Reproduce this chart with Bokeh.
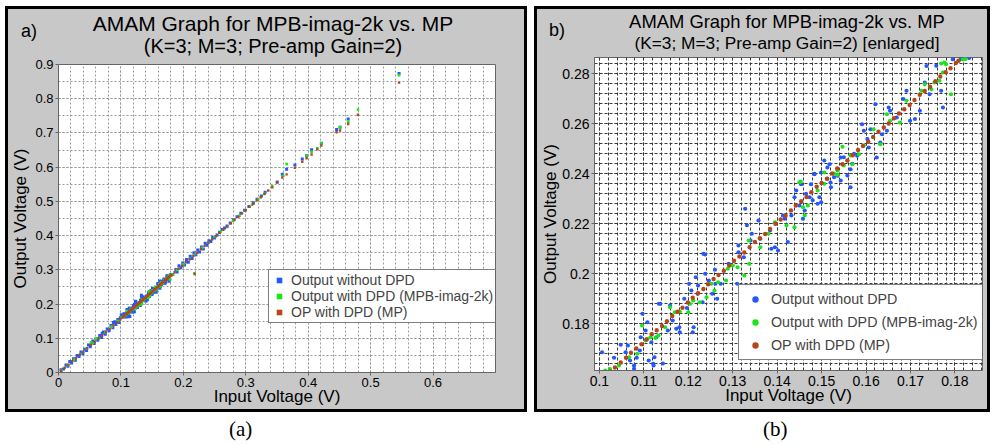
import math
from bokeh.plotting import figure
from bokeh.models import (Range1d, SingleIntervalTicker, NumeralTickFormatter,
                          Legend, LegendItem, Div)
from bokeh.layouts import row, column
from bokeh.embed import file_html
from bokeh.resources import INLINE

# ---------------- data ----------------
series_names = ["Output without DPD", "Output with DPD (MPB-imag-2k)", "OP with DPD (MP)"]
series_colors = ["#2457ff", "#19e619", "#b5461c"]

title_a = ["AMAM Graph for MPB-imag-2k vs. MP", "(K=3; M=3; Pre-amp Gain=2)"]
title_b = ["AMAM Graph for MPB-imag-2k vs. MP", "(K=3; M=3; Pre-amp Gain=2) [enlarged]"]
tags = ["a)", "b)"]
captions = ["(a)", "(b)"]
x_label = "Input Voltage (V)"
y_label = "Output Voltage (V)"

# Output without DPD (blue)
blue_pts = [
    (0.004, 0.008), (0.008, 0.010), (0.012, 0.022), (0.015, 0.018), (0.018, 0.032), (0.021, 0.028),
    (0.024, 0.040), (0.027, 0.036), (0.030, 0.050), (0.033, 0.047), (0.036, 0.060), (0.039, 0.055),
    (0.042, 0.068), (0.045, 0.064), (0.048, 0.080), (0.051, 0.075), (0.054, 0.088), (0.057, 0.085),
    (0.060, 0.098), (0.063, 0.094), (0.066, 0.108), (0.069, 0.102), (0.072, 0.118), (0.075, 0.112),
    (0.078, 0.127), (0.081, 0.122), (0.084, 0.137), (0.087, 0.131), (0.090, 0.148), (0.092, 0.140),
    (0.095, 0.155), (0.097, 0.146), (0.099, 0.160), (0.088, 0.146), (0.070, 0.115), (0.055, 0.092),
    (0.1006, 0.1685), (0.1033, 0.1663), (0.1048, 0.1715), (0.1059, 0.1685), (0.1064, 0.1712),
    (0.1069, 0.1652), (0.1078, 0.1632), (0.1078, 0.1619), (0.1084, 0.1663), (0.1091, 0.1692),
    (0.1093, 0.1745), (0.1097, 0.1839), (0.1104, 0.1772), (0.1108, 0.1805), (0.1111, 0.1652),
    (0.1117, 0.1725), (0.1121, 0.1639), (0.1122, 0.1632), (0.1124, 0.1665), (0.1128, 0.1745),
    (0.1134, 0.1879), (0.1137, 0.1879), (0.1143, 0.1640), (0.1154, 0.1772), (0.1159, 0.1872),
    (0.1165, 0.1812), (0.1173, 0.1779), (0.1180, 0.1785), (0.1181, 0.1765), (0.1191, 0.1899),
    (0.1197, 0.1862), (0.1202, 0.1959), (0.1207, 0.1932), (0.1210, 0.1765), (0.1212, 0.1785),
    (0.1217, 0.1985), (0.1221, 0.1919), (0.1222, 0.1952), (0.1232, 0.1885), (0.1234, 0.2079),
    (0.1238, 0.1999), (0.1238, 0.2076), (0.1246, 0.1972), (0.1254, 0.1919), (0.1260, 0.2015),
    (0.1261, 0.1959), (0.1265, 0.1899), (0.1273, 0.1959), (0.1291, 0.2039), (0.1310, 0.1959),
    (0.1313, 0.2085), (0.1313, 0.2112), (0.1325, 0.2065), (0.1328, 0.2259), (0.1332, 0.2193),
    (0.1340, 0.2132), (0.1343, 0.2159), (0.1358, 0.2212), (0.1362, 0.2139), (0.1384, 0.2172),
    (0.1387, 0.2099), (0.1395, 0.2105), (0.1402, 0.2092), (0.1413, 0.2232), (0.1417, 0.2219),
    (0.1424, 0.2126), (0.1432, 0.2232), (0.1439, 0.2305), (0.1443, 0.2332), (0.1450, 0.2272),
    (0.1454, 0.2357), (0.1458, 0.2219), (0.1462, 0.2252), (0.1465, 0.2319), (0.1473, 0.2305),
    (0.1476, 0.2357), (0.1480, 0.2293), (0.1484, 0.2399), (0.1484, 0.2397), (0.1491, 0.2279),
    (0.1495, 0.2305), (0.1499, 0.2285), (0.1499, 0.2404), (0.1506, 0.2452), (0.1513, 0.2379),
    (0.1513, 0.2424), (0.1518, 0.2437), (0.1520, 0.2364), (0.1521, 0.2345), (0.1528, 0.2385),
    (0.1536, 0.2391), (0.1543, 0.2372), (0.1543, 0.2464), (0.1550, 0.2465), (0.1558, 0.2392),
    (0.1565, 0.2345), (0.1565, 0.2417), (0.1569, 0.2439), (0.1573, 0.2479), (0.1580, 0.2471),
    (0.1591, 0.2597), (0.1595, 0.2571), (0.1603, 0.2538), (0.1606, 0.2504), (0.1610, 0.2577),
    (0.1621, 0.2677), (0.1624, 0.2464), (0.1632, 0.2524), (0.1636, 0.2557), (0.1647, 0.2571),
    (0.1651, 0.2664), (0.1654, 0.2651), (0.1669, 0.2624), (0.1684, 0.2698), (0.1691, 0.2731),
    (0.1699, 0.2611), (0.1710, 0.2618), (0.1721, 0.2651), (0.1732, 0.2764), (0.1736, 0.2830),
    (0.1743, 0.2717), (0.1758, 0.2831), (0.1769, 0.2731), (0.1773, 0.2664), (0.1795, 0.2857),
    (0.1813, 0.2857), (0.1822, 0.2860), (0.1832, 0.2862),
    (0.188, 0.301), (0.190, 0.294), (0.193, 0.312), (0.196, 0.306), (0.199, 0.320), (0.202, 0.314),
    (0.205, 0.330), (0.208, 0.322), (0.211, 0.340), (0.214, 0.333), (0.217, 0.350), (0.220, 0.344),
    (0.223, 0.358), (0.226, 0.352), (0.229, 0.367), (0.232, 0.361), (0.235, 0.378), (0.238, 0.372),
    (0.241, 0.385), (0.244, 0.383), (0.247, 0.395), (0.250, 0.393), (0.254, 0.402), (0.258, 0.410),
    (0.262, 0.418), (0.266, 0.422), (0.270, 0.428), (0.275, 0.437), (0.280, 0.446), (0.286, 0.455),
    (0.292, 0.465), (0.298, 0.474), (0.305, 0.485), (0.312, 0.496), (0.318, 0.506), (0.325, 0.516),
    (0.331, 0.527),
    (0.3504, 0.557), (0.3585, 0.579), (0.3654, 0.594), (0.3787, 0.606), (0.3905, 0.624),
    (0.3974, 0.633), (0.4054, 0.651), (0.421, 0.670), (0.4455, 0.710), (0.451, 0.717),
    (0.464, 0.741), (0.5455, 0.8735),
]

# Output with DPD (MPB-imag-2k) (green)
green_pts = [
    (0.005, 0.006), (0.015, 0.022), (0.025, 0.038), (0.035, 0.054), (0.045, 0.070), (0.052, 0.088),
    (0.055, 0.086), (0.060, 0.099), (0.065, 0.101), (0.075, 0.118), (0.085, 0.134), (0.095, 0.150),
    (0.1013, 0.1612), (0.1024, 0.1618), (0.1044, 0.1632), (0.1067, 0.1665), (0.1085, 0.1679),
    (0.1096, 0.1792), (0.1104, 0.1732), (0.1108, 0.1738), (0.1115, 0.1745), (0.1126, 0.1742),
    (0.1133, 0.1752), (0.1148, 0.1785), (0.1159, 0.1865), (0.1170, 0.1845), (0.1181, 0.1848),
    (0.1200, 0.1845), (0.1204, 0.1879), (0.1211, 0.1892), (0.1226, 0.1885), (0.1241, 0.1905),
    (0.1252, 0.1959), (0.1259, 0.1932), (0.1267, 0.1965), (0.1285, 0.1972), (0.1289, 0.2019),
    (0.1300, 0.2032), (0.1311, 0.2025), (0.1326, 0.1992), (0.1337, 0.2039), (0.1336, 0.2132),
    (0.1362, 0.2105), (0.1380, 0.2159), (0.1395, 0.2205), (0.1421, 0.2192), (0.1439, 0.2185),
    (0.1450, 0.2365), (0.1453, 0.2368), (0.1458, 0.2265), (0.1462, 0.2232), (0.1469, 0.2272),
    (0.1491, 0.2332), (0.1506, 0.2359), (0.1506, 0.2404), (0.1528, 0.2399), (0.1536, 0.2412),
    (0.1536, 0.2395), (0.1547, 0.2507), (0.1550, 0.2432), (0.1565, 0.2472), (0.1569, 0.2437),
    (0.1584, 0.2477), (0.1595, 0.2512), (0.1617, 0.2577), (0.1632, 0.2517), (0.1647, 0.2637),
    (0.1654, 0.2611), (0.1676, 0.2604), (0.1691, 0.2691), (0.1725, 0.2731), (0.1732, 0.2757),
    (0.1747, 0.2737), (0.1754, 0.2764), (0.1765, 0.2771), (0.1769, 0.2840), (0.1773, 0.2804),
    (0.1776, 0.2844), (0.1780, 0.2837), (0.1791, 0.2717), (0.1818, 0.2856), (0.1821, 0.2857),
    (0.1824, 0.2858),
    (0.190, 0.300), (0.200, 0.316), (0.210, 0.332), (0.218, 0.290), (0.220, 0.348), (0.230, 0.364),
    (0.240, 0.380), (0.250, 0.396), (0.260, 0.412), (0.270, 0.425), (0.280, 0.443), (0.290, 0.458),
    (0.300, 0.475), (0.310, 0.490), (0.320, 0.507), (0.330, 0.522),
    (0.3424, 0.545), (0.360, 0.575), (0.3654, 0.609), (0.3974, 0.633), (0.4054, 0.645),
    (0.4145, 0.655), (0.421, 0.670), (0.451, 0.717), (0.464, 0.733), (0.4797, 0.7685),
    (0.5455, 0.869),
]

# OP with DPD (MP) (brown)
brown_pts = [
    (0.004, 0.005), (0.010, 0.014), (0.016, 0.023), (0.022, 0.033), (0.028, 0.042), (0.034, 0.052),
    (0.040, 0.061), (0.046, 0.071), (0.052, 0.081), (0.058, 0.090), (0.064, 0.100), (0.070, 0.109),
    (0.076, 0.119), (0.082, 0.128), (0.088, 0.138), (0.094, 0.147), (0.099, 0.155),
    (0.1025, 0.1608), (0.1035, 0.1624), (0.1048, 0.1644), (0.1060, 0.1663), (0.1071, 0.1683),
    (0.1083, 0.1700), (0.1095, 0.1717), (0.1106, 0.1736), (0.1118, 0.1757), (0.1129, 0.1773),
    (0.1141, 0.1790), (0.1152, 0.1809), (0.1164, 0.1830), (0.1176, 0.1847), (0.1187, 0.1863),
    (0.1199, 0.1884), (0.1210, 0.1903), (0.1222, 0.1921), (0.1234, 0.1938), (0.1245, 0.1957),
    (0.1257, 0.1978), (0.1268, 0.1994), (0.1280, 0.2011), (0.1292, 0.2032), (0.1303, 0.2051),
    (0.1315, 0.2068), (0.1326, 0.2084), (0.1338, 0.2105), (0.1350, 0.2126), (0.1361, 0.2141),
    (0.1373, 0.2158), (0.1384, 0.2178), (0.1396, 0.2199), (0.1408, 0.2216), (0.1419, 0.2231),
    (0.1431, 0.2252), (0.1442, 0.2272), (0.1454, 0.2289), (0.1466, 0.2306), (0.1477, 0.2325),
    (0.1489, 0.2347), (0.1500, 0.2362), (0.1512, 0.2379), (0.1524, 0.2400), (0.1535, 0.2420),
    (0.1547, 0.2437), (0.1558, 0.2452), (0.1570, 0.2473), (0.1582, 0.2494), (0.1593, 0.2510),
    (0.1605, 0.2527), (0.1616, 0.2546), (0.1628, 0.2567), (0.1640, 0.2584), (0.1651, 0.2600),
    (0.1663, 0.2621), (0.1674, 0.2640), (0.1686, 0.2657), (0.1698, 0.2674), (0.1709, 0.2694),
    (0.1721, 0.2715), (0.1732, 0.2730), (0.1744, 0.2747), (0.1756, 0.2769), (0.1767, 0.2788),
    (0.1779, 0.2805), (0.1790, 0.2821), (0.1802, 0.2842), (0.1808, 0.2851),
    (0.186, 0.293), (0.192, 0.303), (0.198, 0.312), (0.204, 0.322), (0.210, 0.331), (0.216, 0.341),
    (0.218, 0.288), (0.222, 0.350), (0.228, 0.360), (0.234, 0.370), (0.240, 0.379), (0.246, 0.389),
    (0.252, 0.398), (0.258, 0.408), (0.264, 0.417), (0.270, 0.427), (0.276, 0.436), (0.282, 0.446),
    (0.288, 0.455), (0.294, 0.465), (0.300, 0.474), (0.306, 0.484), (0.312, 0.493), (0.318, 0.503),
    (0.324, 0.512), (0.330, 0.522), (0.336, 0.532),
    (0.3424, 0.541), (0.350, 0.555), (0.3585, 0.570), (0.3654, 0.579), (0.3787, 0.598),
    (0.3905, 0.616), (0.3974, 0.626), (0.4054, 0.637), (0.4145, 0.652), (0.421, 0.663),
    (0.4455, 0.702), (0.451, 0.707), (0.464, 0.726), (0.4797, 0.753), (0.5455, 0.847),
]

series_points = [blue_pts, green_pts, brown_pts]

FONT = "Liberation Sans"
GREY = "#c8c8c8"


def header_div(width, height, lines, font_pxs, line_h, block_top, center_x, tag, tag_left, tag_top):
    spans = "<br>".join('<span style="font-size:%spx">%s</span>' % (fpx, txt)
                        for txt, fpx in zip(lines, font_pxs))
    html = ('<div style="position:relative;width:%dpx;height:%dpx;'
            'font-family:\'Liberation Sans\',Arial,sans-serif;color:black">'
            '<div style="position:absolute;left:0px;width:%dpx;top:%dpx;text-align:center;'
            'line-height:%dpx;white-space:nowrap">%s</div>'
            '<div style="position:absolute;left:%dpx;top:%dpx;font-size:18px;line-height:22px">%s</div>'
            '</div>') % (width, height, 2 * center_x, block_top, line_h, spans,
                         tag_left, tag_top, tag)
    return Div(text=html, width=width, height=height, margin=0)


def build_panel(width, height, x_rng, y_rng, x_step, x_minor, y_step, y_minor, borders,
                tick_font, tick_out, label_standoff, xlab_standoff, ylab_standoff,
                grid_color, grid_dash, marker, msizes, legend_loc, legend_font,
                legend_pad, legend_glyph_w, legend_label_h, legend_spacing, legend_standoff):
    p = figure(width=width, height=height, x_range=Range1d(*x_rng), y_range=Range1d(*y_rng),
               output_backend="svg", toolbar_location=None,
               min_border_left=borders[0], min_border_right=borders[1],
               min_border_top=borders[2], min_border_bottom=borders[3])
    p.background_fill_color = "white"
    p.border_fill_color = GREY
    p.outline_line_color = "#666666"
    p.outline_line_width = 1

    xt = SingleIntervalTicker(interval=x_step, num_minor_ticks=x_minor)
    yt = SingleIntervalTicker(interval=y_step, num_minor_ticks=y_minor)
    p.xaxis.ticker = xt
    p.yaxis.ticker = yt
    p.xgrid.ticker = xt
    p.ygrid.ticker = yt
    for g in (p.xgrid, p.ygrid):
        g.grid_line_color = grid_color
        g.grid_line_dash = grid_dash
        g.minor_grid_line_color = grid_color
        g.minor_grid_line_dash = grid_dash
    for ax in (p.xaxis, p.yaxis):
        ax.formatter = NumeralTickFormatter(format="0.[00]")
        ax.major_label_text_font = FONT
        ax.major_label_text_font_size = tick_font
        ax.major_label_text_color = "black"
        ax.axis_line_color = "#666666"
        ax.major_tick_line_color = "#666666"
        ax.major_tick_out = tick_out
        ax.major_tick_in = 0
        ax.minor_tick_out = 0
        ax.minor_tick_in = 0
        ax.major_label_standoff = label_standoff
        ax.axis_label_text_font = FONT
        ax.axis_label_text_font_size = "17px"
        ax.axis_label_text_font_style = "normal"
        ax.axis_label_text_color = "black"
    p.xaxis.axis_label = x_label
    p.yaxis.axis_label = y_label
    p.xaxis.axis_label_standoff = xlab_standoff
    p.yaxis.axis_label_standoff = ylab_standoff

    items = []
    for name, color, pts, ms in zip(series_names, series_colors, series_points, msizes):
        xs = [q[0] for q in pts]
        ys = [q[1] for q in pts]
        r = p.scatter(xs, ys, marker=marker, size=ms, fill_color=color, line_color=None)
        items.append(LegendItem(label=name, renderers=[r]))

    legend = Legend(items=items, location=legend_loc, margin=0, padding=legend_pad,
                    spacing=legend_spacing, glyph_width=legend_glyph_w,
                    glyph_height=legend_label_h, label_height=legend_label_h,
                    label_standoff=legend_standoff, label_text_font=FONT,
                    label_text_font_size=legend_font, border_line_color="black",
                    border_line_width=1, background_fill_color="white",
                    background_fill_alpha=1.0)
    p.add_layout(legend, "center")
    return p


# panel (a): inner 516 x 400; header 47 px, figure 353 px
head_a = header_div(516, 47, title_a, [21, 20], 19, 5, 265, tags[0], 13, 11)
pa = build_panel(516, 353, (0, 0.7), (0, 0.9), 0.1, 5, 0.1, 2, (50, 29, 8, 37),
                 "13px", 3, 2, -3, 2, "#9a9a9a", "2 2", "square", [3.0, 2.6, 2.4],
                 (210, 49), "14px", 2, 16, 14, 0, 4)

# panel (b): inner 450 x 400; header 43 px, figure 357 px
head_b = header_div(450, 43, title_b, [18.4, 17.3], 19, 3, 250, tags[1], 12, 10)
pb = build_panel(450, 357, (0.0989, 0.1862), (0.1612, 0.2864), 0.01, 5, 0.02, 5,
                 (57, 5, 5, 39), "14px", 3, 2, -3, -1, "#3a3a3a", "3 2", "circle",
                 [4.2, 4.2, 4.4], (144, 10), "14.3px", 6, 20, 16, 7, 6)

box_style = {"border": "3px solid black", "background-color": GREY}
panel_a = column(head_a, pa, spacing=0, styles=box_style)
panel_b = column(head_b, pb, spacing=0, styles=box_style)

cap_a = Div(text='<div style="padding-left:224px;font-family:\'Liberation Serif\',serif;font-size:21px;line-height:24px;padding-top:5px">%s</div>' % captions[0],
            width=522, height=30, margin=0)
cap_b = Div(text='<div style="padding-left:229px;font-family:\'Liberation Serif\',serif;font-size:21px;line-height:24px;padding-top:5px">%s</div>' % captions[1],
            width=456, height=30, margin=0)

layout = column(row(panel_a, panel_b, spacing=7), row(cap_a, cap_b, spacing=7),
                spacing=0, styles={"margin-left": "5px", "margin-top": "6px"})

open("out.html", "w").write(file_html(layout, INLINE))
